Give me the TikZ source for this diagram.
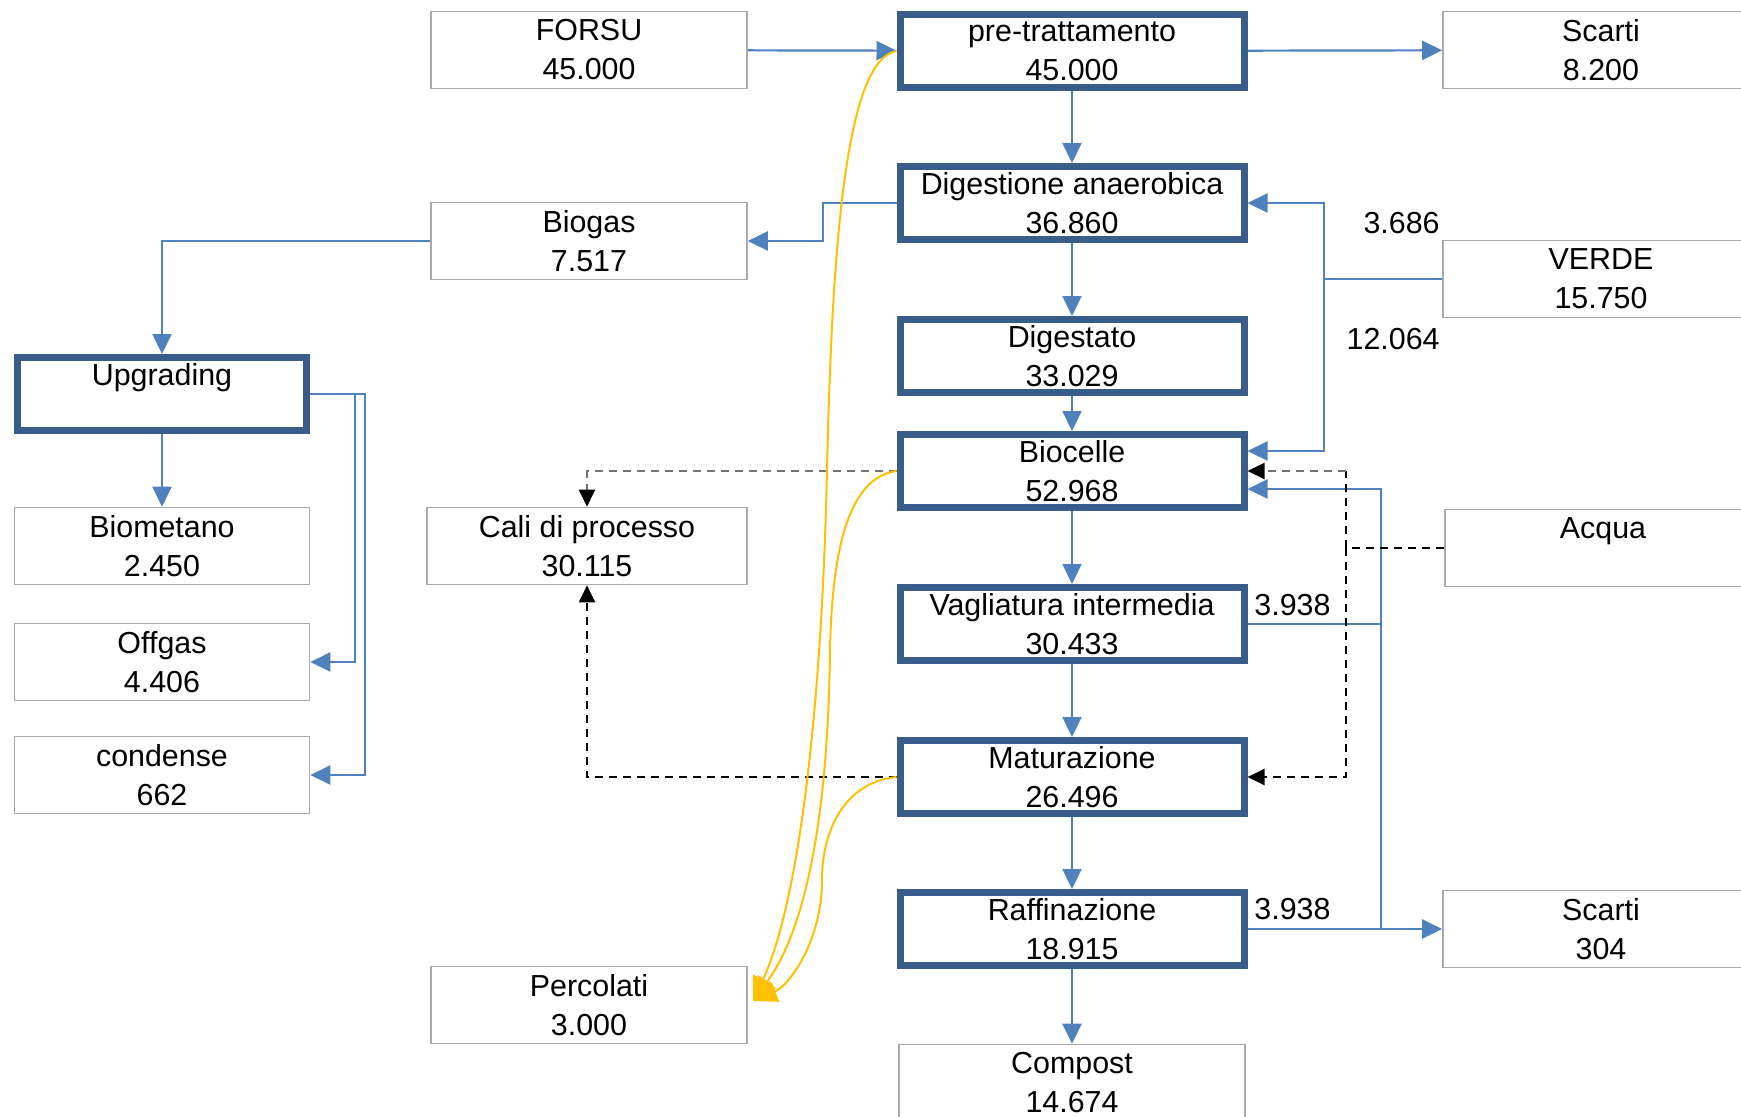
\documentclass[tikz,border=0pt]{standalone}
\usepackage{fontspec}
\setmainfont{Liberation Sans}
\usetikzlibrary{arrows.meta}

\definecolor{flowblue}{RGB}{79,129,189}
\definecolor{boxblue}{RGB}{56,93,138}
\definecolor{boxgray}{RGB}{170,170,170}
\definecolor{dashgray}{RGB}{115,115,115}
\definecolor{percorange}{RGB}{255,192,0}

\tikzset{
	thinbox/.style={draw=boxgray, line width=0.8pt, minimum width=158pt, minimum height=38.5pt, inner sep=0pt, align=center, font=\fontsize{15.2}{19.5}\selectfont},
	thickbox/.style={thinbox, draw=boxblue, line width=3.5pt, minimum width=172pt, minimum height=36.5pt},
	flowlabel/.style={inner sep=0pt, font=\fontsize{15.2}{19.5}\selectfont},
	flowline/.style={draw=flowblue, line width=1.1pt},
	flow/.style={flowline, -{Triangle[length=10pt,width=9.5pt]}},
	lossline/.style={draw=black, line width=1pt, dash pattern=on 4pt off 3pt},
	loss/.style={lossline, -{Triangle[length=8.5pt,width=8pt,color=black]}},
	leach/.style={draw=percorange, line width=1pt, -{Triangle[length=12pt,width=11pt]}}
}

\begin{document}
\begin{tikzpicture}[x=0.5pt,y=0.5pt,yscale=-1,xscale=1]
	\useasboundingbox (0,0) rectangle (1741,1116);

	% central line
	\node [thickbox] (pretratt) at (1072,51) {pre-trattamento\\45.000};
	\node [thickbox] (digest) at (1072,203) {Digestione anaerobica\\36.860};
	\node [thickbox] (digestato) at (1072,356) {Digestato\\33.029};
	\node [thickbox] (biocelle) at (1072,471) {Biocelle\\52.968};
	\node [thickbox] (vaglia) at (1072,624) {Vagliatura intermedia\\30.433};
	\node [thickbox] (matur) at (1072,777) {Maturazione\\26.496};
	\node [thickbox] (raffin) at (1072,929) {Raffinazione\\18.915};
	\node [thinbox, minimum width=173pt] (compost) at (1072,1083) {Compost\\14.674};

	% inputs and outputs
	\node [thinbox] (forsu) at (589,50) {FORSU\\45.000};
	\node [thinbox] (biogas) at (589,241) {Biogas\\7.517};
	\node [thinbox, minimum width=160pt] (cali) at (587,546) {Cali di processo\\30.115};
	\node [thinbox] (percolati) at (589,1005) {Percolati\\3.000};
	\node [thinbox] (scarti) at (1601,50) {Scarti\\8.200};
	\node [thinbox] (verde) at (1601,279) {VERDE\\15.750};
	\node [thinbox] (acqua) at (1603,548) {Acqua\\\phantom{0}};
	\node [thinbox] (scarti2) at (1601,929) {Scarti\\304};

	% biogas line
	\node [thickbox, minimum width=144.5pt] (upgrading) at (162,394) {Upgrading\\\phantom{0}};
	\node [thinbox, minimum width=147.5pt] (biometano) at (162,546) {Biometano\\2.450};
	\node [thinbox, minimum width=147.5pt] (offgas) at (162,662) {Offgas\\4.406};
	\node [thinbox, minimum width=147.5pt] (condense) at (162,775) {condense\\662};

	% quantities on the lines
	\node [flowlabel, anchor=east] (l3686) at (1440,223) {3.686};
	\node [flowlabel, anchor=east] (l12064) at (1440,339) {12.064};
	\node [flowlabel, anchor=west] (l3938a) at (1254,605) {3.938};
	\node [flowlabel, anchor=west] (l3938b) at (1254,909) {3.938};

	% bends
	\coordinate (bgbus) at (823,0);
	\coordinate (vbus) at (1324,0);
	\coordinate (abus) at (1346,0);
	\coordinate (rbus) at (1381,0);
	\coordinate (ubus1) at (355,0);
	\coordinate (ubus2) at (365,0);
	\coordinate (leachend) at (753,1001);

	% main flow
	\draw [flow] (forsu) -- (pretratt);
	\draw [flow] (pretratt) -- (scarti);
	\draw [flow] (pretratt) -- (digest);
	\draw [flow] (digest) -- (digestato);
	\draw [flow] (digestato) -- (biocelle);
	\draw [flow] (biocelle) -- (vaglia);
	\draw [flow] (vaglia) -- (matur);
	\draw [flow] (matur) -- (raffin);
	\draw [flow] (raffin) -- (compost);

	% biogas and upgrading
	\draw [flow] (digest.west) -- (digest.west -| bgbus) |- (biogas.east);
	\draw [flow] (biogas.west) -| (upgrading.north);
	\draw [flow] (upgrading) -- (biometano);
	\draw [flow] (upgrading.east) -- (upgrading.east -| ubus1) |- (offgas.east);
	\draw [flow] (upgrading.east) -- (upgrading.east -| ubus2) |- (condense.east);

	% verde
	\draw [flow] (verde.west) -- (verde.west -| vbus) |- (digest.east);
	\draw [flow] (verde.west -| vbus) |- ([yshift=-10pt]biocelle.east);

	% sovvalli back to biocelle
	\draw [flow] (vaglia.east) -- (vaglia.east -| rbus) |- ([yshift=9pt]biocelle.east);
	\draw [flowline] (raffin.east -| rbus) -- (vaglia.east -| rbus);
	\draw [flow] (raffin.east) -- (scarti2.west);

	% acqua
	\draw [lossline] (acqua.west) -- (acqua.west -| abus) -- (abus |- biocelle.east);
	\draw [loss, draw=dashgray] (abus |- biocelle.east) -- (biocelle.east);
	\draw [loss] (acqua.west -| abus) |- (matur.east);

	% cali di processo
	\draw [loss, draw=dashgray] (biocelle.west) -| (cali.north);
	\draw [loss] (matur.west) -| (cali.south);

	% percolati
	\draw [leach] (pretratt.west) .. controls (845,60) and (832,250) .. (827,470) .. controls (822,700) and (800,900) .. (leachend);
	\draw [leach] (biocelle.west) .. controls (845,478) and (832,560) .. (830,650) .. controls (828,820) and (805,930) .. (leachend);
	\draw [leach] (matur.west) .. controls (845,782) and (822,830) .. (822,880) .. controls (822,940) and (790,985) .. (leachend);

\end{tikzpicture}
\end{document}
